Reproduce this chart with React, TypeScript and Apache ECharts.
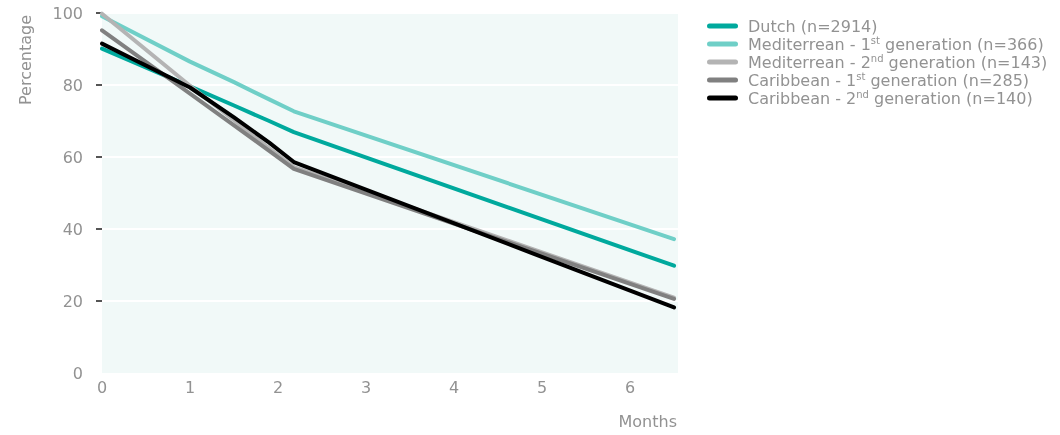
import React, { useEffect, useRef } from "react";
import * as echarts from "echarts";

const months = [0, 1, 1.5, 1.9, 2.18, 6.5];
const dutch = [90.1, 79.6, 74.3, 70, 66.9, 29.8];
const med1 = [99.1, 86.5, 80.8, 76, 72.7, 37.2];
const med2 = [99.8, 79.8, 70.2, 62.4, 57.2, 20.9];
const carib1 = [95.2, 77.6, 68.8, 61.7, 56.7, 20.6];
const carib2 = [91.5, 79.3, 71, 64, 58.6, 18.2];

const seriesNames = [
  "Dutch (n=2914)",
  "Mediterrean - 1st generation (n=366)",
  "Mediterrean - 2nd generation (n=143)",
  "Caribbean - 1st generation (n=285)",
  "Caribbean - 2nd generation (n=140)",
];
const legendRich = [
  "Dutch (n=2914)",
  "Mediterrean - 1{sup|st} generation (n=366)",
  "Mediterrean - 2{sup|nd} generation (n=143)",
  "Caribbean - 1{sup|st} generation (n=285)",
  "Caribbean - 2{sup|nd} generation (n=140)",
];
const seriesValues = [dutch, med1, med2, carib1, carib2];
const seriesColors = ["#00a99d", "#6fcfc7", "#b4b4b4", "#808080", "#000000"];
const yTicks = [0, 20, 40, 60, 80, 100];
const yTickMarks = [20, 40, 60, 80, 100];
const xTicks = [0, 1, 2, 3, 4, 5, 6];

const FONT = "'DejaVu Sans', sans-serif";
const WEIGHT = "normal";
const GRAY = "#929292";

export default function App() {
  const ref = useRef<HTMLDivElement>(null);
  useEffect(() => {
    if (!ref.current) return;
    const chart = echarts.init(ref.current, null, { renderer: "svg" });
    const option: any = {
      animation: false,
      grid: {
        left: 102,
        right: 382,
        top: 13,
        bottom: 62,
        show: true,
        backgroundColor: "#f1f9f8",
        borderWidth: 0,
      },
      legend: {
        orient: "vertical",
        left: 707,
        top: 17,
        padding: 0,
        itemWidth: 31,
        itemHeight: 5,
        itemGap: 0,
        icon: "path://M2.5,0 H28.5 A2.5,2.5 0 0 1 28.5,5 H2.5 A2.5,2.5 0 0 1 2.5,0 Z",
        data: seriesNames,
        formatter: (name: string) => legendRich[seriesNames.indexOf(name)],
        textStyle: {
          color: GRAY,
          fontSize: 16,
          fontFamily: FONT,
          fontWeight: WEIGHT,
          lineHeight: 18,
          padding: [0, 0, 0, 5],
          rich: {
            sup: {
              color: GRAY,
              fontSize: 10,
              fontFamily: FONT,
              fontWeight: WEIGHT,
              lineHeight: 10,
              verticalAlign: "top",
            },
          },
        },
      },
      xAxis: {
        type: "value",
        min: 0,
        max: 6.545,
        interval: 1,
        axisLine: { show: false },
        axisTick: { show: false },
        splitLine: { show: false },
        axisLabel: {
          color: GRAY,
          fontSize: 16,
          fontFamily: FONT,
          fontWeight: WEIGHT,
          margin: 6,
          formatter: (v: number) => (xTicks.indexOf(v) >= 0 ? String(v) : ""),
        },
      },
      yAxis: {
        type: "value",
        min: yTicks[0],
        max: yTicks[yTicks.length - 1],
        interval: 20,
        axisLine: { show: false },
        axisTick: {
          show: true,
          length: 6,
          customValues: yTickMarks,
          lineStyle: { color: "#555", width: 2 },
        },
        splitLine: { show: true, lineStyle: { color: "#ffffff", width: 2 } },
        axisLabel: {
          color: GRAY,
          fontSize: 16,
          fontFamily: FONT,
          fontWeight: WEIGHT,
          margin: 19,
        },
      },
      graphic: [
        {
          type: "text",
          x: 25,
          y: 60,
          rotation: Math.PI / 2,
          style: {
            text: "Percentage",
            fill: GRAY,
            fontSize: 16,
            fontFamily: FONT,
            fontWeight: WEIGHT,
            textAlign: "center",
            textVerticalAlign: "middle",
          },
        },
        {
          type: "text",
          x: 677,
          y: 421,
          style: {
            text: "Months",
            fill: GRAY,
            fontSize: 16,
            fontFamily: FONT,
            fontWeight: WEIGHT,
            textAlign: "right",
            textVerticalAlign: "middle",
          },
        },
      ],
      series: seriesNames.map((name, i) => ({
        name,
        type: "line",
        data: months.map((m, j) => [m, seriesValues[i][j]]),
        showSymbol: false,
        symbol: "none",
        color: seriesColors[i],
        lineStyle: { color: seriesColors[i], width: 4, cap: "round", join: "round" },
        z: 2 + i,
      })),
    };
    chart.setOption(option);
    return () => chart.dispose();
  }, []);
  return (
    <div
      ref={ref}
      style={{ position: "fixed", left: 0, top: 0, width: 1060, height: 435 }}
    />
  );
}
